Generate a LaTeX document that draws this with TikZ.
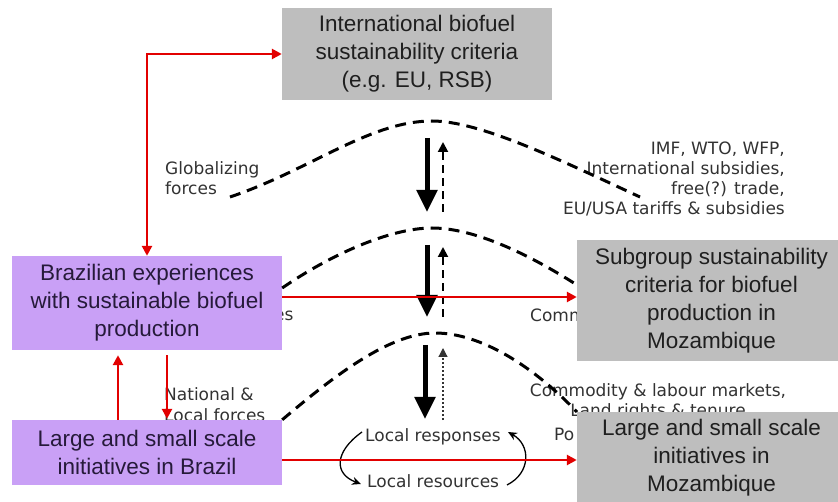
\documentclass[tikz,border=0pt]{standalone}
\usepackage{fontspec}
\setmainfont{Liberation Sans}
\newfontfamily\lblfont{DejaVu Sans}
\usetikzlibrary{arrows.meta,calc}
\definecolor{boxgray}{RGB}{190,190,190}
\definecolor{boxviolet}{RGB}{201,160,246}
\definecolor{linkred}{RGB}{226,0,0}
\definecolor{labelgray}{RGB}{50,50,50}
\definecolor{violettext}{RGB}{38,26,58}

\begin{document}
\begin{tikzpicture}[x=1pt,y=-1pt,
  box/.style={rectangle, inner sep=0pt, align=center,
    font=\fontsize{22.5}{28}\selectfont},
  graybox/.style={box, fill=boxgray, text=black!88},
  violetbox/.style={box, fill=boxviolet, text=violettext},
  lbl/.style={inner sep=0pt, text=labelgray,
    font=\lblfont\fontsize{17}{20}\selectfont},
  link/.style={draw=linkred, line width=2.5pt,
    -{Triangle[length=10pt,width=10pt]}},
  linkboth/.style={link, {Triangle[length=10pt,width=10pt]}-{Triangle[length=10pt,width=10pt]}},
  forcearc/.style={draw=black, line width=3pt, dash pattern=on 11pt off 7pt},
  pushdown/.style={draw=black, line width=5pt,
    -{Triangle[length=22pt,width=20pt]}},
  feedback/.style={draw=black, line width=2pt, dash pattern=on 8pt off 5pt,
    -{Triangle[length=10pt,width=10pt]}},
  feedbackweak/.style={draw=black!80, line width=1.2pt, dash pattern=on 2pt off 2pt,
    -{Triangle[length=9pt,width=9pt]}},
  loop/.style={draw=black, line width=1.3pt, -{Stealth[length=9pt,width=8pt]}}
]
\useasboundingbox (0,0) rectangle (838,502);

% --- side labels (some partly covered by the boxes) ---
\node[lbl, anchor=base west] (glob1) at (165,175) {Globalizing};
\node[lbl, anchor=base west] (glob2) at (165,195) {forces};

\node[lbl, anchor=base east] (imf1) at (785,155) {IMF, WTO, WFP,};
\node[lbl, anchor=base east] (imf2) at (785,175) {International subsidies,};
\node[lbl, anchor=base east] (imf3) at (785,195) {free(?) trade,};
\node[lbl, anchor=base east] (imf4) at (785,215) {EU/USA tariffs \& subsidies};

\node[lbl, anchor=base west] (es) at (274,321) {es};
\node[lbl, anchor=base west] (comm) at (530,322) {Comm};

\node[lbl, anchor=base west] (nat1) at (164,400) {National \&};
\node[lbl, anchor=base west] (nat2) at (164,421) {Local forces};

\node[lbl, anchor=base] (mkt1) at (658,397) {Commodity \& labour markets,};
\node[lbl, anchor=base] (mkt2) at (658,417) {Land rights \& tenure};
\node[lbl, anchor=base west] (po) at (554,440) {Po};

\node[lbl, anchor=base west] (resp) at (365,442) {Local responses};
\node[lbl, anchor=base west] (reso) at (367,487) {Local resources};

% --- local loop between responses and resources ---
\coordinate (cl1) at (362,432);
\coordinate (cl2) at (361,484);
\coordinate (cr1) at (507,485);
\coordinate (cr2) at (508,432);
\draw[loop] (cl1) .. controls (334,452) and (334,474) .. (cl2);
\draw[loop] (cr1) .. controls (531,473) and (531,445) .. (cr2);

% --- dashed arcs of the three scales ---
\coordinate (g1) at (230,197);
\coordinate (g2) at (640,197);
\draw[forcearc] (g1) .. controls (310,170) and (370,121) .. (432,121)
                     .. controls (480,121) and (560,160) .. (g2);

% --- vertical influences ---
\coordinate (d1t) at (427,138); \coordinate (d1b) at (427,212);
\coordinate (u1b) at (443,212); \coordinate (u1t) at (443,142);
\coordinate (d2t) at (427,245); \coordinate (d2b) at (427,317);
\coordinate (u2b) at (443,317); \coordinate (u2t) at (443,247);
\coordinate (d3t) at (425,345); \coordinate (d3b) at (425,419);
\coordinate (u3b) at (443,420); \coordinate (u3t) at (443,348);
\draw[pushdown] (d1t) -- (d1b);
\draw[feedback] (u1b) -- (u1t);
\draw[pushdown] (d2t) -- (d2b);
\draw[feedback] (u2b) -- (u2t);
\draw[pushdown] (d3t) -- (d3b);
\draw[feedbackweak] (u3b) -- (u3t);

% --- boxes ---
\node[graybox, minimum width=270pt, minimum height=92pt] (intl) at (417,54)
  {International biofuel\\sustainability criteria\\(e.g. EU, RSB)};
\node[violetbox, minimum width=270pt, minimum height=94pt] (bra) at (147,303)
  {Brazilian experiences\\with sustainable biofuel\\production};
\node[violetbox, minimum width=270pt, minimum height=65pt] (lbr) at (147,452.5)
  {Large and small scale\\initiatives in Brazil};

% arcs drawn before the right boxes so they run in behind them
\draw[forcearc] ([yshift=15pt]bra.east) .. controls (330,255) and (390,228) .. (432,228)
                     .. controls (475,228) and (530,255) .. (577,285);
\draw[forcearc] (lbr.north east) .. controls (335,375) and (390,333) .. (435,333)
                     .. controls (480,333) and (532,365) .. (577,412);

\node[graybox, minimum width=269pt, minimum height=121pt] (sub) at (711.5,301)
  {Subgroup sustainability\\criteria for biofuel\\production in\\Mozambique};
\node[graybox, minimum width=269pt, minimum height=92pt] (lmz) at (711.5,458)
  {Large and small scale\\initiatives in\\Mozambique};

% --- red links ---
\draw[linkboth] (bra.north) |- (intl.west);
\draw[link] ([yshift=6pt]bra.east) -- ([yshift=6pt]bra.east -| sub.west);
\draw[link] ([yshift=-7.5pt]lbr.east) -- ([yshift=-7.5pt]lbr.east -| lmz.west);
\draw[link] ([xshift=-29pt]lbr.north) -- ([xshift=-29pt,yshift=-5pt]bra.south);
\draw[link] ([xshift=20pt,yshift=-5pt]bra.south) -- ([xshift=20pt,yshift=1pt]lbr.north);
\end{tikzpicture}
\end{document}
